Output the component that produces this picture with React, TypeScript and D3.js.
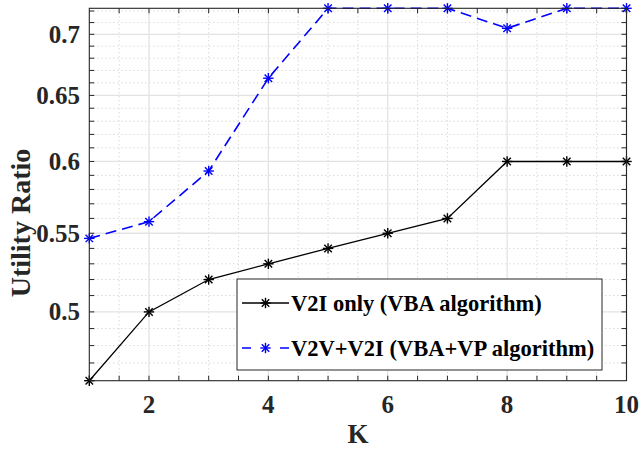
import React from "react";
import * as d3 from "d3";

const kValues = [1, 2, 3, 4, 5, 6, 7, 8, 9, 10];
const v2iOnly = [0.46, 0.5, 0.52, 0.53, 0.54, 0.55, 0.56, 0.6, 0.6, 0.6];
const v2vV2i = [0.5466, 0.5578, 0.5931, 0.6637, 0.7224, 0.7224, 0.7224, 0.7051, 0.7224, 0.7224];
const xTickLabels = [2, 4, 6, 8, 10];
const yTickLabels = [0.5, 0.55, 0.6, 0.65, 0.7];
const seriesNames = ["V2I only (VBA algorithm)", "V2V+V2I (VBA+VP algorithm)"];

const W = 640, H = 449;
const L = 89.3, R = 626.5, T = 8.3, B = 380.7;
const FONT = "Liberation Serif, Times New Roman, Times, serif";

function Star({ x, y, color }: { x: number; y: number; color: string }) {
  const s = 5.2;
  const d = s * 0.72;
  return (
    <g stroke={color} strokeWidth={1.4}>
      <line x1={x - s} y1={y} x2={x + s} y2={y} />
      <line x1={x} y1={y - s} x2={x} y2={y + s} />
      <line x1={x - d} y1={y - d} x2={x + d} y2={y + d} />
      <line x1={x - d} y1={y + d} x2={x + d} y2={y - d} />
    </g>
  );
}

export default function App() {
  const x = d3.scaleLinear().domain([1, 10]).range([L, R]);
  const y = d3.scaleLog().domain([0.46, 0.7224]).range([B, T]);

  const line = d3
    .line<number>()
    .x((_, i) => x(kValues[i]))
    .y((d) => y(d));

  const xMinor = d3.range(1.5, 10, 0.5).filter((v) => !xTickLabels.includes(v));
  const xAllTicks = d3.range(1.5, 10, 0.5);
  const yMinor = d3
    .range(47, 73, 1)
    .map((v) => v / 100)
    .filter((v) => !yTickLabels.some((t) => Math.abs(t - v) < 1e-9));
  const yAllTicks = d3.range(47, 73, 1).map((v) => v / 100);

  const axisColor = "#262626";
  const ts: React.CSSProperties = { fontFamily: FONT, fontWeight: "bold" };

  return (
    <svg
      width={W}
      height={H}
      style={{ position: "absolute", left: 0, top: 0, background: "#fff" }}
    >
      <rect x={0} y={0} width={W} height={H} fill="#fff" />
      {/* minor grid */}
      <g stroke="#c8c8c8" strokeWidth={1} strokeDasharray="1 3">
        {xMinor.map((v) => (
          <line key={"xm" + v} x1={x(v)} x2={x(v)} y1={T} y2={B} />
        ))}
        {yMinor.map((v) => (
          <line key={"ym" + v} x1={L} x2={R} y1={y(v)} y2={y(v)} />
        ))}
      </g>
      {/* major grid */}
      <g stroke="#e3e3e3" strokeWidth={1.3}>
        {xTickLabels.map((v) => (
          <line key={"xM" + v} x1={x(v)} x2={x(v)} y1={T} y2={B} />
        ))}
        {yTickLabels.map((v) => (
          <line key={"yM" + v} x1={L} x2={R} y1={y(v)} y2={y(v)} />
        ))}
      </g>
      {/* ticks */}
      <g stroke={axisColor} strokeWidth={1}>
        {xAllTicks.map((v) => (
          <g key={"xt" + v}>
            <line x1={x(v)} x2={x(v)} y1={B} y2={B - 5} />
            <line x1={x(v)} x2={x(v)} y1={T} y2={T + 5} />
          </g>
        ))}
        {yAllTicks.map((v) => (
          <g key={"yt" + v}>
            <line x1={L} x2={L + 5} y1={y(v)} y2={y(v)} />
            <line x1={R} x2={R - 5} y1={y(v)} y2={y(v)} />
          </g>
        ))}
      </g>
      {/* series */}
      <path d={line(v2iOnly) || ""} fill="none" stroke="#000" strokeWidth={1.3} />
      <path
        d={line(v2vV2i) || ""}
        fill="none"
        stroke="#0000ff"
        strokeWidth={1.6}
        strokeDasharray="11 6"
      />
      {v2iOnly.map((v, i) => (
        <Star key={"b" + i} x={x(kValues[i])} y={y(v)} color="#000" />
      ))}
      {v2vV2i.map((v, i) => (
        <Star key={"u" + i} x={x(kValues[i])} y={y(v)} color="#0000ff" />
      ))}
      {/* axes box */}
      <rect x={L} y={T} width={R - L} height={B - T} fill="none" stroke={axisColor} strokeWidth={1.1} />
      {/* tick labels */}
      <g fill="#262626">
        {xTickLabels.map((v) => (
          <text key={"xl" + v} x={x(v)} y={413} textAnchor="middle" style={{ ...ts, fontSize: 25 }}>
            {v}
          </text>
        ))}
        {yTickLabels.map((v) => (
          <text key={"yl" + v} x={80} y={y(v) + 8.5} textAnchor="end" style={{ ...ts, fontSize: 25 }}>
            {String(v)}
          </text>
        ))}
      </g>
      {/* axis titles */}
      <text x={(L + R) / 2} y={443} textAnchor="middle" fill="#262626" style={{ ...ts, fontSize: 27 }}>
        K
      </text>
      <text
        transform="translate(30,223) rotate(-90)"
        textAnchor="middle"
        fill="#262626"
        style={{ ...ts, fontSize: 28 }}
      >
        Utility Ratio
      </text>
      {/* legend */}
      <g>
        <rect x={237} y={279} width={365} height={91} fill="#fff" stroke="#262626" strokeWidth={1} />
        <line x1={242} x2={289} y1={303} y2={303} stroke="#000" strokeWidth={1.3} />
        <Star x={265.5} y={303} color="#000" />
        <line
          x1={242}
          x2={289}
          y1={348}
          y2={348}
          stroke="#0000ff"
          strokeWidth={1.6}
          strokeDasharray="9 29"
        />
        <Star x={265.5} y={348} color="#0000ff" />
        <g fill="#000">
          <text x={291} y={311} style={{ ...ts, fontSize: 22.5 }}>
            {seriesNames[0]}
          </text>
          <text x={291} y={356} style={{ ...ts, fontSize: 22.5 }}>
            {seriesNames[1]}
          </text>
        </g>
      </g>
    </svg>
  );
}
